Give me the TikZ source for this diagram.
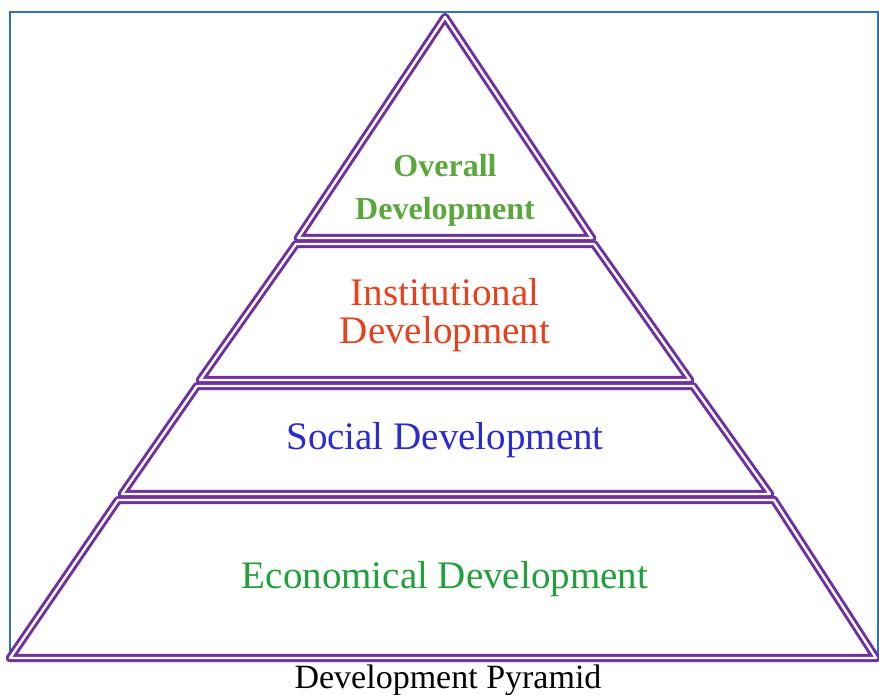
\documentclass[tikz,border=0pt]{standalone}
\usepackage{fontspec}
\setmainfont{Liberation Serif}
\usetikzlibrary{positioning}

\definecolor{pyrpurple}{HTML}{7030A0}
\definecolor{framblue}{HTML}{2E75B6}
\definecolor{topgreen}{HTML}{5AA83C}
\definecolor{instred}{HTML}{E8401C}
\definecolor{socblue}{HTML}{2B2BD6}
\definecolor{ecogreen}{HTML}{1FA03C}

\begin{document}
\begin{tikzpicture}[x=1pt,y=-1pt,
  level/.style={draw=pyrpurple,double=white,double distance=2.4pt,line width=3pt,line join=round},
  label/.style={align=center,font=\fontsize{39}{38}\selectfont}]

\useasboundingbox (0,0) rectangle (879,695);

% outer frame
  \draw[framblue,line width=1.5pt] (10,12) rectangle (878,660);

% define the corners of the levels
  \coordinate (apex) at (445,17);
  \coordinate (t1l) at (298,238);  \coordinate (t1r) at (592,238);
  \coordinate (t2l) at (296,244);  \coordinate (t2r) at (594,244);
  \coordinate (b2l) at (200,380);  \coordinate (b2r) at (690,380);
  \coordinate (t3l) at (197,386);  \coordinate (t3r) at (693,386);
  \coordinate (b3l) at (122,494);  \coordinate (b3r) at (770,494);
  \coordinate (t4l) at (118,500);  \coordinate (t4r) at (774,500);
  \coordinate (b4l) at (10,658);   \coordinate (b4r) at (876,658);

% define the levels
  \draw[level] (apex) -- (t1r) -- (t1l) -- cycle;
  \draw[level] (t2l) -- (t2r) -- (b2r) -- (b2l) -- cycle;
  \draw[level] (t3l) -- (t3r) -- (b3r) -- (b3l) -- cycle;
  \draw[level] (t4l) -- (t4r) -- (b4r) -- (b4l) -- cycle;

% define the labels
  \node[label,text=topgreen,font=\fontsize{32}{43}\selectfont\bfseries] (overall) at (445,190)
{Overall\\Development};
  \node[label,text=instred] (institutional) at (445,315)
{Institutional\\Development};
  \node[label,text=socblue] (social) at (445,440)
{Social Development};
  \node[label,text=ecogreen] (economical) at (445,579)
{Economical Development};
  \node[font=\fontsize{34}{36}\selectfont] (caption) at (448,680)
{Development Pyramid};

\end{tikzpicture}
\end{document}
